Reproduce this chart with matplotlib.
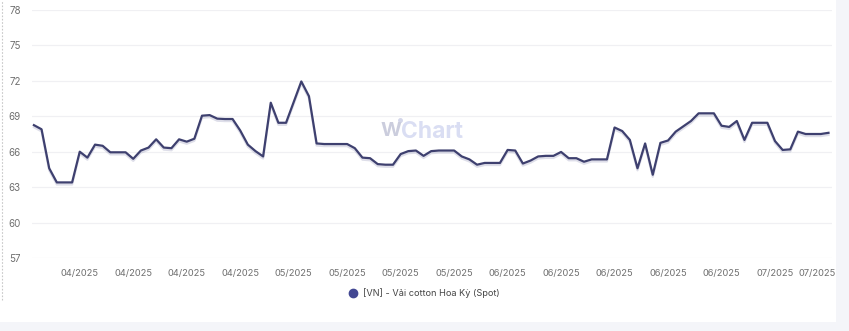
import pandas as pd
import matplotlib
matplotlib.use("Agg")
import matplotlib.pyplot as plt
import matplotlib.patheffects as pe
from matplotlib.patches import Rectangle
from matplotlib.lines import Line2D

# Daily spot price, 01/04/2025 - 14/07/2025
start_date = "2025-04-01"
prices = [
    68.25, 67.9, 64.6, 63.4, 63.4, 63.4, 66.0, 65.5, 66.6, 66.5,
    65.95, 65.95, 65.95, 65.4, 66.1, 66.35, 67.05, 66.35, 66.3, 67.05,
    66.85, 67.1, 69.05, 69.1, 68.8, 68.77, 68.77, 67.8, 66.6, 66.05,
    65.6, 70.15, 68.45, 68.45, 70.2, 71.95, 70.7, 66.7, 66.65, 66.65,
    66.65, 66.65, 66.3, 65.5, 65.45, 64.95, 64.9, 64.9, 65.8, 66.05,
    66.1, 65.65, 66.05, 66.1, 66.1, 66.1, 65.6, 65.35, 64.9, 65.05,
    65.05, 65.05, 66.15, 66.1, 65.0, 65.25, 65.6, 65.65, 65.65, 65.98,
    65.45, 65.45, 65.15, 65.35, 65.35, 65.35, 68.05, 67.75, 67.0, 64.6,
    66.7, 64.05, 66.75, 66.95, 67.7, 68.15, 68.6, 69.25, 69.25, 69.25,
    68.2, 68.1, 68.6, 67.0, 68.45, 68.45, 68.45, 66.9, 66.15, 66.2,
    67.7, 67.5, 67.5, 67.5, 67.6,
]
dates = pd.date_range(start_date, periods=len(prices), freq="D")

tick_dates = pd.to_datetime([
    "2025-04-07 00:00", "2025-04-14 00:00", "2025-04-21 00:00", "2025-04-28 00:00",
    "2025-05-05 00:00", "2025-05-12 00:00", "2025-05-19 00:00", "2025-05-26 00:00",
    "2025-06-02 00:00", "2025-06-09 00:00", "2025-06-16 00:00", "2025-06-23 00:00",
    "2025-06-30 00:00", "2025-07-07 00:00", "2025-07-12 12:00",
])
tick_labels = [
    "04/2025", "04/2025", "04/2025", "04/2025",
    "05/2025", "05/2025", "05/2025", "05/2025",
    "06/2025", "06/2025", "06/2025", "06/2025", "06/2025",
    "07/2025", "07/2025",
]
y_ticks = [57, 60, 63, 66, 69, 72, 75, 78]
series_name = "[VN] - Vải cotton Hoa Kỳ (Spot)"

line_color = "#3e406f"
text_color = "#707070"
plt.rcParams["font.family"] = ["Inter", "DejaVu Sans"]

W, H = 849, 331
fig = plt.figure(figsize=(W / 100, H / 100), dpi=100)
fig.patch.set_facecolor("#f4f5f9")

# white card with dotted left edge
card = Rectangle((0, 1 - 322 / H), 836 / W, 322 / H, transform=fig.transFigure,
                 facecolor="white", edgecolor="none", zorder=-5)
fig.patches.append(card)
fig.add_artist(Line2D([1.5 / W, 1.5 / W], [1 - 300 / H, 1], transform=fig.transFigure,
                      color="#c8c8c8", lw=0.8, ls=(0, (1.5, 1.5)), zorder=-4))

ax = fig.add_axes([32 / W, 1 - 258 / H, 800 / W, 248 / H])
ax.set_facecolor("none")
ax.set_zorder(2)

ax.plot(dates, prices, color=line_color, lw=1.6, solid_joinstyle="round", zorder=3,
        path_effects=[pe.SimpleLineShadow(offset=(0, -1.5), shadow_color="#7c7ea8", alpha=0.25),
                      pe.Normal()])

ax.set_ylim(57, 78)
ax.set_yticks(y_ticks)
ax.set_xlim(dates[0] - pd.Timedelta(hours=6), dates[-1] + pd.Timedelta(hours=11))
ax.set_xticks(tick_dates)
ax.set_xticklabels(tick_labels)

ax.grid(axis="y", color="#f0f0f3", lw=0.9)
ax.grid(axis="x", visible=False)
for s in ax.spines.values():
    s.set_visible(False)
ax.tick_params(axis="both", length=0, labelsize=6.7, labelcolor=text_color)
ax.tick_params(axis="y", pad=8, labelsize=7)
ax.tick_params(axis="x", pad=8)

# watermark
fig.text(391 / W, 1 - 131 / H, "W", fontsize=14.5, fontweight="bold",
         color="#cbcddd", ha="center", va="center", zorder=1)
fig.text(401 / W, 1 - 132 / H, "Chart", fontsize=16.5, fontweight="bold",
         color="#dadef3", ha="left", va="center", zorder=1)
fig.add_artist(Line2D([400 / W], [1 - 120 / H], transform=fig.transFigure, marker="o",
                      markersize=2.5, color="#d3d6ea", lw=0, zorder=1))

# legend
fig.add_artist(Line2D([353 / W], [1 - 293 / H], transform=fig.transFigure, marker="o",
                      markersize=6, color="#434893", lw=0))
fig.text(363 / W, 1 - 293 / H, series_name, fontsize=6.6, color="#444444",
         ha="left", va="center")

fig.savefig("out.png", dpi=100, facecolor=fig.get_facecolor())
